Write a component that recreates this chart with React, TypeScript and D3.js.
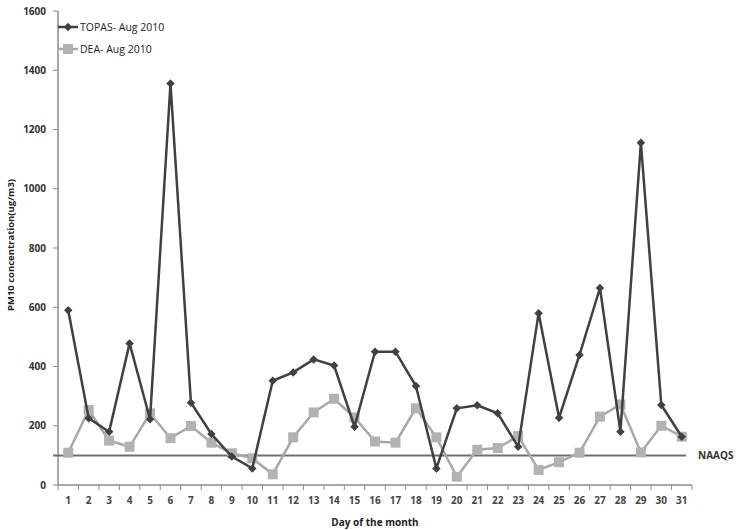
import React from 'react';
import * as d3 from 'd3';

const days = d3.range(1, 32).map(String);
const topas = [590, 225, 180, 478, 222, 1355, 278, 172, 96, 56, 352, 380, 424, 403, 197, 450, 450, 334, 56, 259, 269, 242, 129, 580, 227, 439, 665, 180, 1155, 270, 163];
const dea = [109, 253, 150, 129, 242, 158, 199, 143, 107, 90, 36, 161, 245, 291, 228, 147, 143, 259, 161, 28, 119, 125, 165, 51, 77, 109, 231, 272, 110, 200, 163];
const yTicks = [0, 200, 400, 600, 800, 1000, 1200, 1400, 1600];
const naaqs = 100;

const W = 738;
const H = 530;
const font = 'Open Sans, Noto Sans, sans-serif';

const App = () => {
  const x = d3.scaleBand().domain(days).range([58, 692]).padding(0);
  const y = d3.scaleLinear().domain([0, 1600]).range([485, 11]);
  const bw = x.bandwidth();
  const cx = (d: string) => (x(d) as number) + bw / 2;

  const line = d3
    .line<number>()
    .x((_, i) => cx(days[i]))
    .y((v) => y(v));

  // square diamond marker (rotated square)
  const diamond = d3.symbol().type(d3.symbolSquare).size(36)();
  const axisCol = '#8c8c8c';
  const dark = '#404040';
  const light = '#a8a8a8';

  return (
    <svg width={W} height={H} style={{ position: 'absolute', left: 0, top: 0, background: '#fff' }}>
      {/* y axis */}
      <line x1={58} x2={58} y1={y(1600)} y2={y(0)} stroke={axisCol} strokeWidth={1.5} />
      {yTicks.map((t) => (
        <g key={t}>
          <line x1={53} x2={58} y1={y(t)} y2={y(t)} stroke={axisCol} />
          <text x={46} y={y(t)} dy="0.35em" textAnchor="end" fontSize={10} fontWeight="bold" fill="#333" fontFamily={font}>
            {t}
          </text>
        </g>
      ))}
      {/* x axis */}
      <line x1={58} x2={692} y1={y(0)} y2={y(0)} stroke={axisCol} strokeWidth={1.5} />
      {days.map((d) => (
        <g key={d}>
          <line x1={x(d)} x2={x(d)} y1={y(0)} y2={y(0) + 5} stroke={axisCol} />
          <text x={cx(d)} y={504} textAnchor="middle" fontSize={10} fontWeight="bold" fill="#444" fontFamily={font}>
            {d}
          </text>
        </g>
      ))}
      <line x1={692} x2={692} y1={y(0)} y2={y(0) + 5} stroke={axisCol} />

      {/* NAAQS */}
      <line x1={53} x2={686} y1={y(naaqs)} y2={y(naaqs)} stroke="#6e6e6e" strokeWidth={2} />
      <text x={698} y={y(naaqs)} dy="0.35em" fontSize={10} fontWeight="bold" fill="#333" fontFamily={font}>
        NAAQS
      </text>

      {/* DEA */}
      <path d={line(dea) as string} fill="none" stroke={light} strokeWidth={2.5} />
      {dea.map((v, i) => (
        <rect key={i} x={cx(days[i]) - 5} y={y(v) - 5} width={10} height={10} fill="#b2b2b2" />
      ))}

      {/* TOPAS */}
      <path d={line(topas) as string} fill="none" stroke={dark} strokeWidth={2.5} />
      {topas.map((v, i) => (
        <path key={i} d={diamond as string} transform={`translate(${cx(days[i])},${y(v)}) rotate(45)`} fill={dark} />
      ))}

      {/* legend */}
      <g fontFamily={font} fontSize={10.5} fill="#222">
        <line x1={58} x2={78} y1={27} y2={27} stroke={dark} strokeWidth={2.5} />
        <path d={diamond as string} transform="translate(68,27) rotate(45)" fill={dark} />
        <text x={80} y={27} dy="0.35em">TOPAS- Aug 2010</text>
        <line x1={58} x2={78} y1={49} y2={49} stroke={light} strokeWidth={2.5} />
        <rect x={63} y={44} width={10} height={10} fill="#b2b2b2" />
        <text x={80} y={49} dy="0.35em">DEA- Aug 2010</text>
      </g>

      {/* axis titles */}
      <text x={375} y={526} textAnchor="middle" fontSize={10} fontWeight="bold" fill="#222" fontFamily={font}>
        Day of the month
      </text>
      <text
        transform="translate(14,245) rotate(-90)"
        textAnchor="middle"
        fontSize={9.5}
        fontWeight="bold"
        fill="#222"
        fontFamily={font}
      >
        PM10 concentration(ug/m3)
      </text>
    </svg>
  );
};

export default App;
